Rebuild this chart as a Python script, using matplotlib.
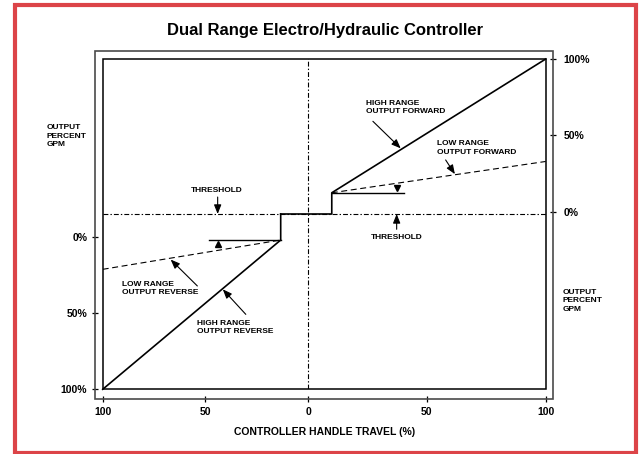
import numpy as np
import matplotlib
matplotlib.use('Agg')
import matplotlib.pyplot as plt
from matplotlib.patches import Rectangle

plt.rcParams['font.family'] = ['Liberation Sans', 'DejaVu Sans']
plt.rcParams['font.weight'] = 'bold'
plt.rcParams['lines.scale_dashes'] = False

# ---------------- data ----------------
title = "Dual Range Electro/Hydraulic Controller"
x_label = "CONTROLLER HANDLE TRAVEL (%)"
side_label = "OUTPUT\nPERCENT\nGPM"
x_ticks = [-100, -50, 0, 50, 100]
x_tick_labels = ['100', '50', '0', '50', '100']
y_ticks = [0, 50, 100]
y_tick_labels = ['0%', '50%', '100%']

threshold_fwd = -1.5                      # forward-% scale
dead_band_x = [-13.3, 10.0]

high_fwd_x = [-13.3, 10.0, 10.0, 100.0]   # handle travel %
high_fwd_y = [threshold_fwd, threshold_fwd, 12.4, 100.0]
low_fwd_x = [10.0, 100.0]
low_fwd_y = [12.4, 32.9]
fwd_min_x = [10.0, 40.3]
fwd_min_y = [12.4, 12.4]

high_rev_x = [-100.0, -13.3, -13.3]       # reverse-% scale
high_rev_r = [100.0, 2.2]
low_rev_x = [-100.0, -13.3]
low_rev_r = [21.4, 2.2]
rev_min_x = [-48.1, -13.3]
rev_min_r = [2.2, 2.2]

W, H = 639, 454
fig = plt.figure(figsize=(W / 100, H / 100), dpi=100)

# red outer border
fig.add_artist(Rectangle((15 / W, 1 - 453 / H), (636 - 15) / W, (453 - 5) / H,
                         transform=fig.transFigure, fill=False,
                         ec='#dc4448', lw=3.0))
# grey outer frame
fig.add_artist(Rectangle((94.7 / W, 1 - 399 / H), (553.3 - 94.7) / W, (399 - 51) / H,
                         transform=fig.transFigure, fill=False,
                         ec='#4a4a4a', lw=1.2))

ax = fig.add_axes([102.7 / W, 1 - 389.3 / H, 443 / W, 330.3 / H])
LH, RH = 205.3, 237.7


def fwd(x):
    x = np.asarray(x, float)
    return np.where(x < 0, x * LH / RH, x)


def inv(x):
    x = np.asarray(x, float)
    return np.where(x < 0, x * RH / LH, x)


ax.set_xscale('function', functions=(fwd, inv))
ax.set_xlim(-100, 100)
ax.set_ylim(-116.3, 100)
ax2 = ax.twinx()
ax2.set_ylim(100, -116.4)

for a in (ax, ax2):
    for s in a.spines.values():
        s.set_color('none')
ax.spines['bottom'].set_position(('outward', 7))
ax.spines['right'].set_position(('outward', 5.5))
ax2.spines['left'].set_position(('outward', 5.8))

ax.set_xticks(x_ticks, x_tick_labels)
ax.set_yticks(y_ticks, y_tick_labels)
ax2.set_yticks(y_ticks, y_tick_labels)
ax.tick_params(axis='x', direction='inout', length=5, width=0.9, pad=3,
               labelsize=7.5, top=False, bottom=True)
ax.tick_params(axis='y', direction='inout', length=5, width=0.9, pad=4.7,
               labelsize=7.5, left=False, labelleft=False, right=True, labelright=True)
ax2.tick_params(axis='y', direction='inout', length=5, width=0.9, pad=2.8,
                labelsize=7.5, left=True, labelleft=True, right=False, labelright=False)
ax.minorticks_off()
ax2.minorticks_off()

# inner frame
ax.add_patch(Rectangle((0, 0), 1, 1, transform=ax.transAxes, fill=False,
                       ec='black', lw=1.1, clip_on=False, zorder=5))

dashdot = (0, (3.5, 1.5, 1.0, 1.5))
dashed = (0, (4.3, 2.6))
ax.axvline(0, color='black', lw=0.8, ls=dashdot)
ax.axhline(threshold_fwd, color='black', lw=0.8, ls=dashdot)

# threshold in reverse units via the axes transforms
pix = ax.transData.transform((0, threshold_fwd))
thr_rev = ax2.transData.inverted().transform(pix)[1]

# forward curves
ax.plot(high_fwd_x, high_fwd_y, color='black', lw=1.2, clip_on=False)
ax.plot(low_fwd_x, low_fwd_y, color='black', lw=0.8, ls=dashed)
ax.plot(fwd_min_x, fwd_min_y, color='black', lw=1.0)
ax.plot([37.3], [15.8], marker='v', color='black', ms=4.5, ls='none')

# reverse curves
ax2.plot(high_rev_x, high_rev_r + [thr_rev], color='black', lw=1.2, clip_on=False)
ax2.plot(low_rev_x, low_rev_r, color='black', lw=0.8, ls=dashed)
ax2.plot(rev_min_x, rev_min_r, color='black', lw=1.0)
ax2.plot([-43.9], [4.6], marker='^', color='black', ms=4.5, ls='none')

fs = 6
ls_txt = 1.3
arrow = dict(arrowstyle='-|>,head_length=0.55,head_width=0.22', lw=0.8,
             color='black', shrinkA=0, shrinkB=0, mutation_scale=10)

ax.text(24.3, 68.2, "HIGH RANGE\nOUTPUT FORWARD", fontsize=fs, ha='left',
        va='center', linespacing=ls_txt)
ax.annotate('', xy=(39.0, 41.5), xytext=(27.3, 59.2), arrowprops=arrow)

ax.text(54.4, 41.7, "LOW RANGE\nOUTPUT FORWARD", fontsize=fs, ha='left',
        va='center', linespacing=ls_txt)
ax.annotate('', xy=(61.8, 24.6), xytext=(57.9, 33.9), arrowprops=arrow)

ax2.text(-90.5, 33.8, "LOW RANGE\nOUTPUT REVERSE", fontsize=fs, ha='left',
         va='center', linespacing=ls_txt)
ax2.annotate('', xy=(-66.9, 15.0), xytext=(-53.9, 32.3), arrowprops=arrow)

ax2.text(-53.9, 59.6, "HIGH RANGE\nOUTPUT REVERSE", fontsize=fs, ha='left',
         va='center', linespacing=ls_txt)
ax2.annotate('', xy=(-41.5, 34.5), xytext=(-30.3, 50.9), arrowprops=arrow)

ax.text(-44.5, 13.75, "THRESHOLD", fontsize=fs, ha='center', va='center')
ax.annotate('', xy=(-44.0, threshold_fwd), xytext=(-44.0, 9.6), arrowprops=arrow)
ax.text(37.4, -17.0, "THRESHOLD", fontsize=fs, ha='center', va='center')
ax.annotate('', xy=(37.3, threshold_fwd), xytext=(37.3, -11.5), arrowprops=arrow)

fig.text(46.7 / W, 1 - 136 / H, side_label, fontsize=fs, ha='left', va='center',
         linespacing=ls_txt)
fig.text(562.7 / W, 1 - 300.7 / H, side_label, fontsize=fs, ha='left', va='center',
         linespacing=ls_txt)

fig.text(325 / W, 1 - 31 / H, title, fontsize=12, ha='center', va='center')
fig.text(324.5 / W, 1 - 432.3 / H, x_label, fontsize=7.5, ha='center', va='center')

fig.savefig('out.png', dpi=100)
